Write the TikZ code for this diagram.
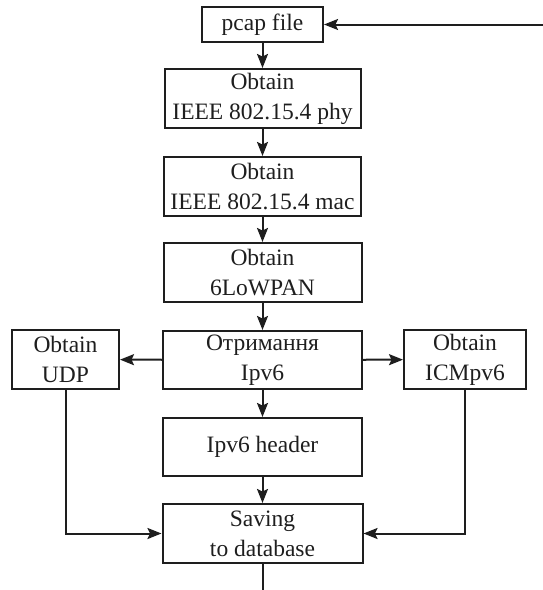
\documentclass[tikz,border=0pt]{standalone}
\usepackage{fontspec}
\setmainfont{Liberation Serif}
\usetikzlibrary{arrows.meta}
\definecolor{ink}{RGB}{30,30,30}
\tikzset{
  block/.style={draw=ink, line width=2pt, align=center, inner sep=0pt,
    text=ink, font=\fontsize{23.5}{30}\selectfont},
  flow/.style={draw=ink, line width=2pt,
    -{Stealth[length=14pt,width=11pt,inset=2.5pt]}},
  plain/.style={draw=ink, line width=2pt}
}
\begin{document}
\begin{tikzpicture}[x=1pt,y=-1pt]
\useasboundingbox (0,0) rectangle (543,590);

\node[block, minimum width=121pt, minimum height=35pt] (pcap) at (262.5,24.5) {pcap file};
\node[block, minimum width=196pt, minimum height=59pt] (phy) at (262.5,98.5) {Obtain\\IEEE 802.15.4 phy};
\node[block, minimum width=197pt, minimum height=59pt] (mac) at (262.5,186.5) {Obtain\\IEEE 802.15.4 mac};
\node[block, minimum width=198pt, minimum height=59pt] (lowpan) at (262.5,272.5) {Obtain\\6LoWPAN};
\node[block, minimum width=199pt, minimum height=58pt] (ipv6) at (262.5,360) {Отримання\\Ipv6};
\node[block, minimum width=107pt, minimum height=59pt] (udp) at (65.5,359.5) {Obtain\\UDP};
\node[block, minimum width=122pt, minimum height=59pt] (icmp) at (465,359.5) {Obtain\\ICMpv6};
\node[block, minimum width=199pt, minimum height=58pt] (hdr) at (262.5,447) {Ipv6 header};
\node[block, minimum width=200pt, minimum height=59pt] (save) at (262.5,533.5) {Saving\\to database};

\coordinate (loopin) at (543,24.5);
\coordinate (out) at (262.5,590);

\draw[flow] (loopin) -- (pcap);
\draw[flow] (pcap) -- (phy);
\draw[flow] (phy) -- (mac);
\draw[flow] (mac) -- (lowpan);
\draw[flow] (lowpan) -- (ipv6);
\draw[flow] (ipv6) -- (udp);
\draw[flow] (ipv6) -- (icmp);
\draw[flow] (ipv6) -- (hdr);
\draw[flow] (hdr) -- (save);
\draw[flow] (udp.south) |- (save.west);
\draw[flow] (icmp.south) |- (save.east);
\draw[plain] (save) -- (out);
\end{tikzpicture}
\end{document}
